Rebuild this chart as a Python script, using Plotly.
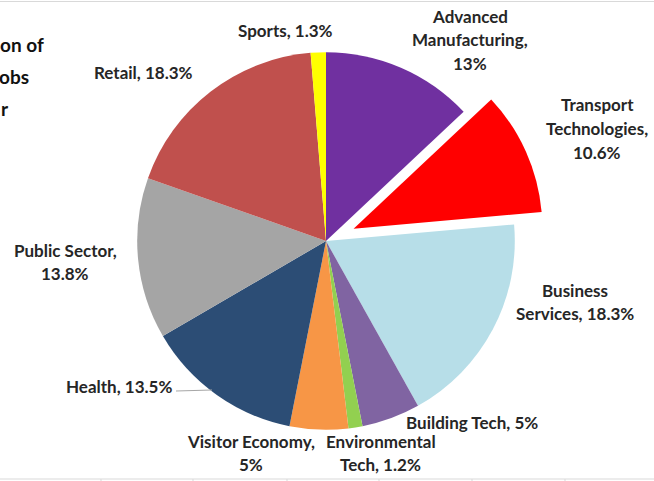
import plotly.graph_objects as go

sectors = ["Advanced Manufacturing", "Transport Technologies", "Business Services",
           "Building Tech", "Environmental Tech", "Visitor Economy", "Health",
           "Public Sector", "Retail", "Sports"]
shares = [13, 10.6, 18.3, 5, 1.2, 5, 13.5, 13.8, 18.3, 1.3]
share_text = ["13%", "10.6%", "18.3%", "5%", "1.2%", "5%", "13.5%", "13.8%", "18.3%", "1.3%"]
colors = ["#7030A0", "#FF0000", "#B7DEE8", "#8064A2", "#92D050", "#F79646",
          "#2C4D75", "#A5A5A5", "#C0504D", "#FFFF00"]
pulls = [0, 0.16, 0, 0, 0, 0, 0, 0, 0, 0]

# label line breaks
label_lines = {
    "Advanced Manufacturing": ["Advanced", "Manufacturing,", "{v}"],
    "Transport Technologies": ["Transport", "Technologies,", "{v}"],
    "Business Services": ["Business", "Services, {v}"],
    "Building Tech": ["Building Tech, {v}"],
    "Environmental Tech": ["Environmental", "Tech, {v}"],
    "Visitor Economy": ["Visitor Economy,", "{v}"],
    "Health": ["Health, {v}"],
    "Public Sector": ["Public Sector,", "{v}"],
    "Retail": ["Retail, {v}"],
    "Sports": ["Sports, {v}"],
}
# label layout: centre x and first-line centre y, in page pixels
label_pos = {
    "Advanced Manufacturing": (470, 16),
    "Transport Technologies": (597, 105),
    "Business Services": (575, 290),
    "Building Tech": (472, 422),
    "Environmental Tech": (381, 441),
    "Visitor Economy": (251, 441),
    "Health": (119, 386),
    "Public Sector": (65, 250),
    "Retail": (143, 72),
    "Sports": (285, 30),
}
LINE_GAP = 23.5

W, H = 654, 481
FONT = "Lato, 'Open Sans', sans-serif"


def px(x):
    return x / W


def py(y):
    return 1 - y / H


fig = go.Figure(go.Pie(
    labels=sectors, values=shares, sort=False, direction="clockwise", rotation=0,
    pull=pulls, marker=dict(colors=colors, line=dict(width=0)),
    textinfo="none", hoverinfo="label+percent", showlegend=False,
    domain=dict(x=[px(107), px(545)], y=[py(460), py(22)]),
))

annotations = []
for name, val in zip(sectors, share_text):
    cx, cy = label_pos[name]
    for i, line in enumerate(label_lines[name]):
        annotations.append(dict(
            x=px(cx), y=py(cy + i * LINE_GAP), xref="paper", yref="paper",
            text="<b>" + line.format(v=val) + "</b>",
            showarrow=False, xanchor="center", yanchor="middle", align="center",
            font=dict(family=FONT, size=17, color="#262626"),
        ))

# visible fragments of the chart title, cut by the left edge of the picture
title_lines = [("on of", 46, 45), ("obs", 31, 77), ("r", 11, 108)]
for t, rx, ty in title_lines:
    annotations.append(dict(
        x=px(rx), y=py(ty), xref="paper", yref="paper", text="<b>" + t + "</b>",
        showarrow=False, xanchor="right", yanchor="middle",
        font=dict(family=FONT, size=19, color="#111111"),
    ))

shapes = [
    dict(type="line", xref="paper", yref="paper", x0=px(176), x1=px(212),
         y0=py(391), y1=py(390), line=dict(color="#A6A6A6", width=1)),
    dict(type="line", xref="paper", yref="paper", x0=0, x1=1,
         y0=py(1.5), y1=py(1.5), line=dict(color="#D9D9D9", width=1)),
    dict(type="line", xref="paper", yref="paper", x0=0, x1=1,
         y0=py(479), y1=py(479), line=dict(color="#D9D9D9", width=1)),
]
for gx in [101, 193, 287, 379, 472, 565]:
    shapes.append(dict(type="line", xref="paper", yref="paper", x0=px(gx), x1=px(gx),
                       y0=0, y1=py(479), line=dict(color="#D9D9D9", width=1)))

fig.update_layout(
    width=W, height=H, margin=dict(l=0, r=0, t=0, b=0),
    paper_bgcolor="white", plot_bgcolor="white",
    annotations=annotations, shapes=shapes,
)

fig.write_html(
    "out.html",
    config={"displayModeBar": False},
    post_script="document.body.style.margin='0';document.body.style.overflow='hidden';",
)
